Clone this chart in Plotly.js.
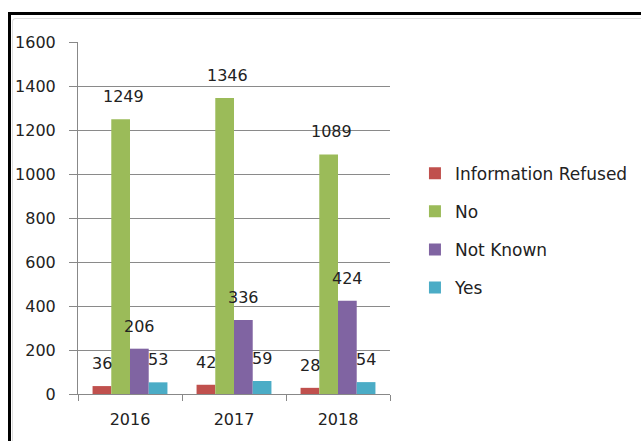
<!DOCTYPE html>
<html><head><meta charset="utf-8">
<script src="https://cdn.plot.ly/plotly-3.0.1.min.js"></script>
<style>
html,body{margin:0;padding:0;background:#fff;}
#frame{position:absolute;left:8px;top:12px;width:640px;height:440px;border-left:3px solid #000;border-top:3px solid #000;}
#inner{position:absolute;left:12px;top:18px;width:640px;height:440px;border-left:1px solid #ddd;border-top:1px solid #ddd;border-top-left-radius:4px;}
#chart{position:absolute;left:0;top:0;width:641px;height:441px;}
</style></head>
<body>
<div id="frame"></div><div id="inner"></div>
<div id="chart"></div>
<script>
const categories = ['2016', '2017', '2018'];
const seriesNames = ['Information Refused', 'No', 'Not Known', 'Yes'];
const informationRefused = [36, 42, 28];
const no = [1249, 1346, 1089];
const notKnown = [206, 336, 424];
const yes = [53, 59, 54];
const colors = ['#C0504D', '#9BBB59', '#8064A2', '#4BACC6'];

const seriesValues = [informationRefused, no, notKnown, yes];
const bargap = 0.28;
const FONT = 'DejaVu Sans, Verdana, sans-serif';
const traces = seriesValues.map((vals, i) => ({
  type: 'bar', name: seriesNames[i], x: categories, y: vals,
  marker: {color: colors[i]}, legendgroup: 'g' + i,
  hoverinfo: 'skip'
}));
const barFrac = (1 - bargap) / seriesValues.length;
const annotations = [];
seriesValues.forEach((vals, i) => {
  vals.forEach((v, j) => {
    annotations.push({
      x: j + (i - (seriesValues.length - 1) / 2) * barFrac, y: v, xref: 'x', yref: 'y',
      text: String(v), showarrow: false, yanchor: 'bottom', yshift: 11, xshift: i === 1 ? 3 : 0,
      font: {family: FONT, size: 16, color: '#222'}
    });
  });
});
const layout = {
  width: 641, height: 441,
  margin: {l: 78, r: 251, t: 42, b: 47, autoexpand: false},
  paper_bgcolor: 'rgba(0,0,0,0)', plot_bgcolor: 'rgba(0,0,0,0)',
  font: {family: FONT, size: 16, color: '#222'},
  barmode: 'group', bargap: bargap, bargroupgap: 0,
  showlegend: true,
  legend: {x: 1.08, xanchor: 'left', y: 0.677, yanchor: 'top',
    font: {family: FONT, size: 17, color: '#222'}, tracegroupgap: 13, traceorder: 'grouped', itemwidth: 30},
  xaxis: {type: 'category', showgrid: false, showline: true, linecolor: '#888', linewidth: 1,
    ticks: 'outside', tickson: 'boundaries', ticklen: 6, tickcolor: '#888', automargin: false,
    ticklabelstandoff: 11, tickfont: {family: FONT, size: 16}, fixedrange: true},
  yaxis: {range: [0, 1600], dtick: 200, showgrid: true, gridcolor: '#8a8a8a', gridwidth: 1,
    showline: true, linecolor: '#888', ticks: 'outside', ticklen: 8, tickcolor: '#888', automargin: false,
    ticklabelstandoff: 10, zeroline: false, tickfont: {family: FONT, size: 16}, fixedrange: true},
  annotations: annotations
};
Plotly.newPlot('chart', traces, layout, {displayModeBar: false, staticPlot: true});
</script>
</body></html>
